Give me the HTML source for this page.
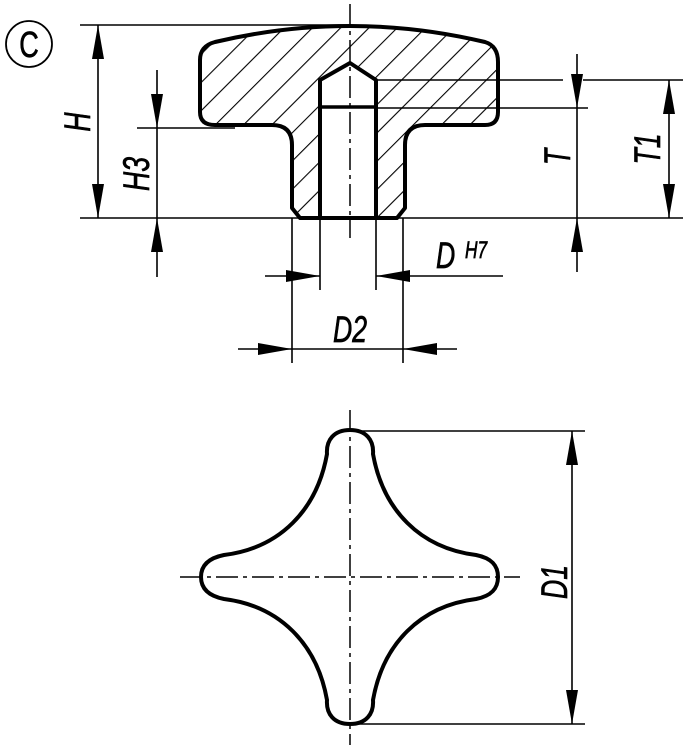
<!DOCTYPE html>
<html><head><meta charset="utf-8"><style>
html,body{margin:0;padding:0;background:#fff;width:688px;height:750px;overflow:hidden}
text{font-family:"Liberation Sans",sans-serif;font-style:italic;fill:#000;stroke:#000;stroke-width:0.7}
</style></head><body>
<svg width="688" height="750" viewBox="0 0 688 750" xmlns="http://www.w3.org/2000/svg">
<defs>
<pattern id="h" patternUnits="userSpaceOnUse" width="20" height="20" patternTransform="rotate(45)">
<line x1="0" y1="0" x2="0" y2="20" stroke="#000" stroke-width="2.2"/>
</pattern>
<marker id="a" viewBox="0 0 34 12" refX="34" refY="6" markerWidth="34" markerHeight="12" markerUnits="userSpaceOnUse" orient="auto-start-reverse">
<path d="M0,0 L34,6 L0,12 Z" fill="#000"/>
</marker>
</defs>
<g stroke="#000" fill="none">
<circle cx="29" cy="44" r="23" stroke-width="1.8"/>
<path d="M215,42 Q350,10 485,42 Q498,46 498,62 L498,112 Q498,125 485,125 L425,125 Q405,125 405,145 L405,208 L397,218 L300,218 L292,208 L292,145 Q292,125 272,125 L215,125 Q200,125 200,112 L200,60 Q200,46 215,42 Z" fill="url(#h)" stroke-width="4" stroke-linejoin="round"/>
<path d="M320,218 L320,80 L350,63 L376,80 L376,218 Z" fill="#fff" stroke-width="4" stroke-linejoin="round"/>
<line x1="320" y1="107" x2="376" y2="107" stroke-width="3.5"/>
<line x1="350" y1="4" x2="350" y2="238" stroke-width="1.5" stroke-dasharray="22,5,4,5"/>
<line x1="350" y1="410" x2="350" y2="745" stroke-width="1.5" stroke-dasharray="22,5,4,5"/>
<line x1="180" y1="577" x2="520" y2="577" stroke-width="1.5" stroke-dasharray="22,5,4,5"/>
<g stroke-width="1.6">
<line x1="80" y1="25" x2="350" y2="25"/>
<line x1="80" y1="218" x2="683" y2="218"/>
<line x1="137" y1="128" x2="235" y2="128"/>
<line x1="376" y1="80" x2="563" y2="80"/>
<line x1="583" y1="80" x2="683" y2="80"/>
<line x1="376" y1="108" x2="588" y2="108"/>
<line x1="292" y1="218" x2="292" y2="363"/>
<line x1="403" y1="218" x2="403" y2="363"/>
<line x1="320" y1="218" x2="320" y2="290"/>
<line x1="376" y1="218" x2="376" y2="290"/>
<line x1="350" y1="431" x2="585" y2="431"/>
<line x1="350" y1="724" x2="585" y2="724"/>
<line x1="98" y1="25" x2="98" y2="218" marker-start="url(#a)" marker-end="url(#a)"/>
<line x1="157" y1="70" x2="157" y2="128" marker-end="url(#a)"/>
<line x1="157" y1="277" x2="157" y2="218" marker-end="url(#a)"/>
<line x1="157" y1="128" x2="157" y2="218"/>
<line x1="577" y1="54" x2="577" y2="108" marker-end="url(#a)"/>
<line x1="577" y1="272" x2="577" y2="218" marker-end="url(#a)"/>
<line x1="577" y1="108" x2="577" y2="218"/>
<line x1="669" y1="80" x2="669" y2="218" marker-start="url(#a)" marker-end="url(#a)"/>
<line x1="265" y1="276" x2="320" y2="276" marker-end="url(#a)"/>
<line x1="503" y1="276" x2="376" y2="276" marker-end="url(#a)"/>
<line x1="238" y1="349" x2="292" y2="349" marker-end="url(#a)"/>
<line x1="457" y1="349" x2="403" y2="349" marker-end="url(#a)"/>
<line x1="292" y1="349" x2="403" y2="349"/>
<line x1="572" y1="431" x2="572" y2="724" marker-start="url(#a)" marker-end="url(#a)"/>
</g>
<path d="M350,430 C366,430 374,440 373,454 C383,510 420,548 476,555 C491,558 498,565 498,577 C498,589 491,596 476,599 C420,606 383,644 373,700 C374,714 366,724 350,724 C334,724 326,714 327,700 C317,644 280,606 224,599 C209,596 201,589 201,577 C201,565 209,558 224,555 C280,548 317,510 327,454 C326,440 334,430 350,430 Z" stroke-width="4" stroke-linejoin="round"/>
</g>
<text transform="translate(29 57) scale(0.75 1)" font-size="36" style="font-style:normal" text-anchor="middle">C</text>
<g font-size="37">
<text transform="translate(90 122) rotate(-90) scale(0.72 1)" text-anchor="middle">H</text>
<text transform="translate(149 174) rotate(-90) scale(0.72 1)" text-anchor="middle">H3</text>
<text transform="translate(570 157) rotate(-90) scale(0.72 1)" text-anchor="middle">T</text>
<text transform="translate(660 149) rotate(-90) scale(0.72 1)" text-anchor="middle">T1</text>
<text transform="translate(567 582) rotate(-90) scale(0.72 1)" text-anchor="middle">D1</text>
<text transform="translate(436 268) scale(0.72 1)">D</text>
<text transform="translate(350 342) scale(0.72 1)" text-anchor="middle">D2</text>
</g>
<text transform="translate(465 258) scale(0.72 1)" font-size="24">H7</text>
</svg>
</body></html>
